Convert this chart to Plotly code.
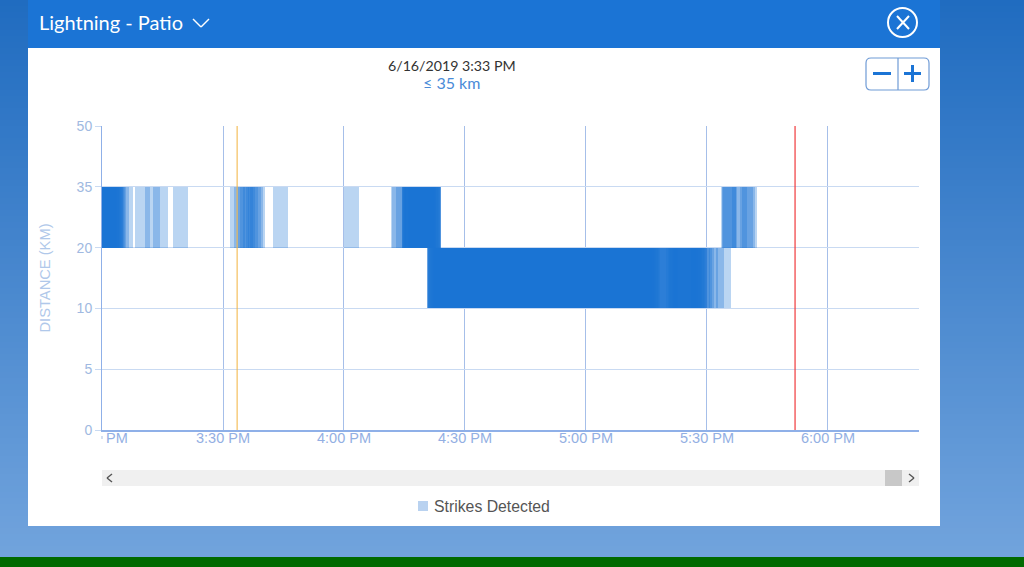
import pandas as pd
import plotly.graph_objects as go

# strike start times, in minutes after 3:00 PM
strikes_20_35 = [
    -3.4, -3.2, -3.0, -2.8, -2.5, -2.2, -2.0, -1.8, -1.5, -1.2, -1.0, -0.8, -0.5, -0.2, 0.0, 0.2,
    0.4, 0.6, 0.8, 1.0, 1.2, 1.4, 1.6, 1.8, 2.0, 2.3, 3.0, 3.9,
    8.2, 10.7, 12.6, 17.6,
    31.7, 32.7, 33.7, 34.2, 35.0, 35.7, 36.2, 36.7,
    42.4, 60.0,
    71.7, 71.9, 72.9, 74.4, 74.4, 74.5, 74.5, 74.6, 74.6, 74.7, 74.8, 75.0, 75.2, 75.5, 75.8,
    76.0, 76.2, 76.5, 76.8, 77.0, 77.2, 77.5, 77.8, 78.0, 78.2, 78.5, 78.8, 79.0, 79.2, 79.5,
    79.8, 80.0, 80.1, 80.2, 80.2, 80.3, 80.3, 80.3, 80.3,
    153.5, 153.6, 153.7, 153.9, 156.1, 157.6, 158.1, 158.6,
]
strikes_10_20 = [
    80.6, 80.7, 80.7, 80.8, 80.8, 80.8, 80.9, 80.9, 81.0, 81.25, 81.5, 81.75, 82.0, 82.25, 82.5,
    82.75, 83.0, 83.25, 83.5, 83.75, 84.0, 84.25, 84.5, 84.75, 85.0, 85.25, 85.5, 85.75, 86.0,
    86.25, 86.5, 86.75, 87.0, 87.25, 87.5, 87.75, 88.0, 88.25, 88.5, 88.75, 89.0, 89.25, 89.5,
    89.75, 90.0, 90.25, 90.5, 90.75, 91.0, 91.25, 91.5, 91.75, 92.0, 92.25, 92.5, 92.75, 93.0,
    93.25, 93.5, 93.75, 94.0, 94.25, 94.5, 94.75, 95.0, 95.25, 95.5, 95.75, 96.0, 96.25, 96.5,
    96.75, 97.0, 97.25, 97.5, 97.75, 98.0, 98.25, 98.5, 98.75, 99.0, 99.25, 99.5, 99.75, 100.0,
    100.25, 100.5, 100.75, 101.0, 101.25, 101.5, 101.75, 102.0, 102.25, 102.5, 102.75, 103.0,
    103.25, 103.5, 103.75, 104.0, 104.25, 104.5, 104.75, 105.0, 105.25, 105.5, 105.75, 106.0,
    106.25, 106.5, 106.75, 107.0, 107.25, 107.5, 107.75, 108.0, 108.25, 108.5, 108.75, 109.0,
    109.25, 109.5, 109.75, 110.0, 110.25, 110.5, 110.75, 111.0, 111.25, 111.5, 111.75, 112.0,
    112.25, 112.5, 112.75, 113.0, 113.25, 113.5, 113.75, 114.0, 114.25, 114.5, 114.75, 115.0,
    115.25, 115.5, 115.75, 116.0, 116.25, 116.5, 116.75, 117.0, 117.25, 117.5, 117.75, 118.0,
    118.25, 118.5, 118.75, 119.0, 119.25, 119.5, 119.75, 120.0, 120.25, 120.5, 120.75, 121.0,
    121.25, 121.5, 121.75, 122.0, 122.25, 122.5, 122.75, 123.0, 123.25, 123.5, 123.75, 124.0,
    124.25, 124.5, 124.75, 125.0, 125.25, 125.5, 125.75, 126.0, 126.25, 126.5, 126.75, 127.0,
    127.25, 127.5, 127.75, 128.0, 128.25, 128.5, 128.75, 129.0, 129.25, 129.5, 129.75, 130.0,
    130.25, 130.5, 130.75, 131.0, 131.25, 131.5, 131.75, 132.0, 132.25, 132.5, 132.75, 133.0,
    133.25, 133.5, 133.75, 134.0, 134.25, 134.5, 134.75, 135.0, 135.25, 135.5, 135.75, 135.9,
    136.5, 137.5, 138.5, 138.75, 139.0, 139.25, 139.5, 139.75, 140.0, 140.25, 140.5, 140.75,
    141.0, 141.25, 141.5, 141.75, 142.0,
    143.0, 143.25, 143.5, 143.75, 144.0, 144.25, 144.5, 144.75, 145.0, 145.25, 145.5, 145.75,
    146.0, 146.15, 146.3,
    147.0, 147.5, 148.0, 149.0, 150.5, 152.2,
]
strike_width_min = 3.7

distance_levels = [0, 5, 10, 20, 35, 50]
band_a = (20, 35)
band_b = (10, 20)

time_ticks = ["15:30", "16:00", "16:30", "17:00", "17:30", "18:00"]
time_labels = ["3:30 PM", "4:00 PM", "4:30 PM", "5:00 PM", "5:30 PM", "6:00 PM"]
orange_time = "15:33:30"
red_time = "17:51:50"

day = "2019-06-16 "
start = pd.Timestamp(day + "15:00")
BLUE = "#1b74d5"
STRIKE = "rgba(27,116,213,0.3)"


def px_x(x):
    return (x - 102) / 817


def px_y(y):
    return (430 - y) / 304


def stamp(minutes):
    return [(start + pd.Timedelta(minutes=m)).strftime("%Y-%m-%d %H:%M:%S") for m in minutes]


def strike_bar(minutes, band, name):
    low = distance_levels.index(band[0])
    high = distance_levels.index(band[1])
    return go.Bar(
        x=stamp(minutes), y=[high - low] * len(minutes), base=[low] * len(minutes),
        width=strike_width_min * 60000, offset=0, name=name, showlegend=False,
        marker=dict(color=STRIKE, line=dict(width=0)),
        hoverinfo="skip",
    )


fig = go.Figure()
fig.add_trace(strike_bar(strikes_20_35, band_a, "Strikes Detected"))
fig.add_trace(strike_bar(strikes_10_20, band_b, "Strikes Detected"))

shapes = []


def rect(x0, y0, x1, y1, color, layer="below"):
    shapes.append(dict(type="rect", xref="paper", yref="paper", x0=px_x(x0), x1=px_x(x1),
                       y0=px_y(y0), y1=px_y(y1), fillcolor=color, layer=layer, line=dict(width=0)))


def line(x0, y0, x1, y1, color, width, layer="above"):
    shapes.append(dict(type="line", xref="paper", yref="paper", x0=px_x(x0), x1=px_x(x1),
                       y0=px_y(y0), y1=px_y(y1), layer=layer, line=dict(color=color, width=width)))


def rounded(x0, y0, x1, y1, r, color, width):
    pts = [("M", x0 + r, y0), ("L", x1 - r, y0), ("Q", x1, y0, x1, y0 + r), ("L", x1, y1 - r),
           ("Q", x1, y1, x1 - r, y1), ("L", x0 + r, y1), ("Q", x0, y1, x0, y1 - r),
           ("L", x0, y0 + r), ("Q", x0, y0, x0 + r, y0)]
    path = ""
    for p in pts:
        nums = [px_x(v) if i % 2 == 0 else px_y(v) for i, v in enumerate(p[1:])]
        path += p[0] + " " + " ".join("%.5f" % n for n in nums) + " "
    shapes.append(dict(type="path", xref="paper", yref="paper", path=path + "Z",
                       line=dict(color=color, width=width)))


# page background gradient, in thin strips
top_col = (32, 108, 192)
bottom_col = (114, 164, 221)
for i in range(0, 558, 6):
    f = i / 558
    c = [round(a + (b - a) * f) for a, b in zip(top_col, bottom_col)]
    rect(0, i, 1024, i + 6, "rgb(%d,%d,%d)" % tuple(c))
rect(0, 557, 1024, 567, "#006a00")
rect(28, 0, 940, 48, BLUE)
rect(28, 48, 940, 526, "#ffffff")

# scrollbar
rect(102, 470, 919, 486, "#f0f0f0")
rect(885, 470, 902, 486, "#c8c8c8")
line(112, 474, 107, 478, "#555555", 1.5)
line(107, 478, 112, 482, "#555555", 1.5)
line(909, 474, 914, 478, "#555555", 1.5)
line(914, 478, 909, 482, "#555555", 1.5)

# header chevron and close button
line(193, 19, 201, 27, "#ffffff", 1.5)
line(201, 27, 209, 19, "#ffffff", 1.5)
shapes.append(dict(type="circle", xref="paper", yref="paper", x0=px_x(888), x1=px_x(917),
                   y0=px_y(8), y1=px_y(37), line=dict(color="#ffffff", width=2)))
line(897, 16, 909, 29, "#ffffff", 2)
line(909, 16, 897, 29, "#ffffff", 2)

# zoom control
rounded(866, 58, 929, 90, 5, "#6f9bd6", 1.2)
line(898, 58, 898, 90, "#6f9bd6", 1.2)
line(873, 73.5, 891, 73.5, BLUE, 3)
line(904, 73.5, 921, 73.5, BLUE, 3)
line(912.5, 65, 912.5, 82, BLUE, 3)

# clipped first tick label mark
line(102, 436, 102, 439, "#a9bfe3", 1)

# legend swatch
rect(418, 501, 428, 511, "#b9d2f0")

# event markers
for when, color, w in [(orange_time, "#f2b33d", 1), (red_time, "#f0393b", 1.2)]:
    shapes.append(dict(type="line", xref="x", yref="paper", x0=day + when, x1=day + when,
                       y0=0, y1=1, line=dict(color=color, width=w)))

texts = [
    dict(x=38, y=22, text="Lightning - Patio", size=20, color="#ffffff", anchor="left", family="Lato"),
    dict(x=452, y=65, text="6/16/2019 3:33 PM", size=14.2, color="#333333", anchor="center", family="Lato"),
    dict(x=451, y=82, text="≤ 35 km", size=16, color="#4a8bd8", anchor="center", family="Lato"),
    dict(x=117, y=438, text="PM", size=14.5, color="#93afe3", anchor="center", family="Liberation Sans"),
    dict(x=433, y=506, text="Strikes Detected", size=15.8, color="#555555", anchor="left", family="Liberation Sans"),
]
annotations = [
    dict(xref="paper", yref="paper", x=px_x(t["x"]), y=px_y(t["y"]), text=t["text"], showarrow=False,
         xanchor=t["anchor"], yanchor="middle", xshift=-1 if t["anchor"] == "left" else 0,
         font=dict(size=t["size"], color=t["color"], family=t["family"]))
    for t in texts
]

fig.update_layout(
    width=1024, height=567,
    margin=dict(l=102, r=105, t=126, b=137, autoexpand=False),
    paper_bgcolor="#ffffff", plot_bgcolor="rgba(0,0,0,0)",
    barmode="overlay", bargap=0,
    shapes=shapes, annotations=annotations,
    font=dict(family="Liberation Sans", size=14, color="#93afe3"),
    showlegend=False,
    xaxis=dict(
        type="date", range=[day + "15:00", day + "18:22:34"],
        tickmode="array", tickvals=[day + t for t in time_ticks], ticktext=time_labels,
        showgrid=True, gridcolor="#a6bfe9", gridwidth=1.3,
        showline=True, linecolor="#8fb0e8", linewidth=1.5, ticks="", zeroline=False,
        ticklabelstandoff=-6,
        tickfont=dict(size=14.5, color="#93afe3"),
    ),
    yaxis=dict(
        range=[0, 5], tickmode="array", tickvals=list(range(len(distance_levels))),
        ticktext=[str(d) for d in distance_levels],
        showgrid=True, gridcolor="#c9daf2", gridwidth=1,
        showline=True, linecolor="#8fb0e8", linewidth=1, ticks="outside", ticklen=6,
        tickcolor="#c9daf2", zeroline=False, tickfont=dict(size=14, color="#a0b9e1"),
        title=dict(text="DISTANCE (KM)", font=dict(size=14.7, color="#b0c8ea"), standoff=22),
    ),
)

fig.write_html("out.html", config=dict(displayModeBar=False),
               post_script="document.body.style.margin='0';document.body.style.overflow='hidden';")
